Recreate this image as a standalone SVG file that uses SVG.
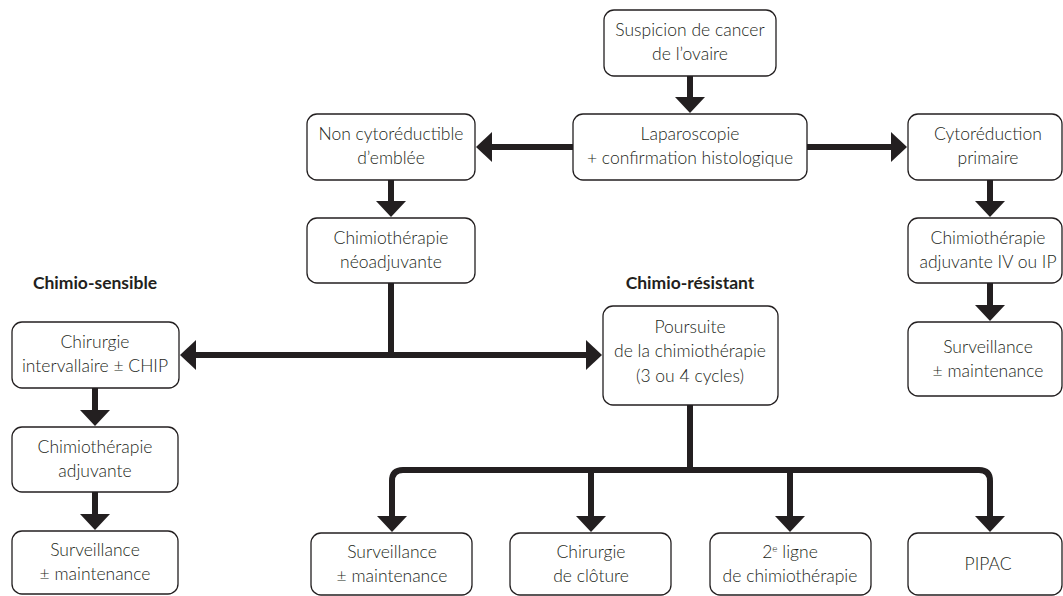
<svg xmlns="http://www.w3.org/2000/svg" width="1063" height="596" viewBox="0 0 1063 596">
  <style>
    .box { fill: #ffffff; stroke: #231f20; stroke-width: 1.3; }
    .t { font-family: Lato, "Open Sans", sans-serif; font-weight: 300; font-size: 17.5px; fill: #231f20; text-anchor: middle; }
    .lbl { font-family: Lato, "Open Sans", sans-serif; font-weight: 700; font-size: 17.5px; fill: #231f20; text-anchor: middle; }
    .c { fill: none; stroke: #231f20; stroke-width: 6; }
  </style>
  <defs>
    <marker id="ah" viewBox="0 0 16 30" refX="1" refY="15" markerWidth="16" markerHeight="30" markerUnits="userSpaceOnUse" orient="auto">
      <path d="M0,0 L16,15 L0,30 z" fill="#231f20"/>
    </marker>
  </defs>
  <rect width="1063" height="596" fill="#ffffff"/>

  <g id="connectors">
    <line class="c" x1="690" y1="76" x2="690" y2="98" marker-end="url(#ah)"/>
    <line class="c" x1="573" y1="147" x2="491" y2="147" marker-end="url(#ah)"/>
    <line class="c" x1="807" y1="147" x2="892" y2="147" marker-end="url(#ah)"/>
    <line class="c" x1="391" y1="180" x2="391" y2="202" marker-end="url(#ah)"/>
    <line class="c" x1="990" y1="180" x2="990" y2="202" marker-end="url(#ah)"/>
    <line class="c" x1="990" y1="283" x2="990" y2="306" marker-end="url(#ah)"/>
    <line class="c" x1="391" y1="283" x2="391" y2="355"/>
    <line class="c" x1="394" y1="355" x2="195" y2="355" marker-end="url(#ah)"/>
    <line class="c" x1="388" y1="355" x2="587" y2="355" marker-end="url(#ah)"/>
    <line class="c" x1="95" y1="388" x2="95" y2="411" marker-end="url(#ah)"/>
    <line class="c" x1="95" y1="492" x2="95" y2="515" marker-end="url(#ah)"/>
    <line class="c" x1="690" y1="405" x2="690" y2="470"/>
    <path class="c" d="M392,517 V481 Q392,470 403,470 H979 Q990,470 990,481 V517"/>
    <line class="c" x1="392" y1="500" x2="392" y2="517" marker-end="url(#ah)"/>
    <line class="c" x1="591" y1="470" x2="591" y2="517" marker-end="url(#ah)"/>
    <line class="c" x1="790" y1="470" x2="790" y2="517" marker-end="url(#ah)"/>
    <line class="c" x1="990" y1="500" x2="990" y2="517" marker-end="url(#ah)"/>
  </g>

  <g id="n-suspicion">
    <rect class="box" x="604" y="10" width="172" height="66" rx="10"/>
    <text class="t" x="690" y="36">Suspicion de cancer</text>
    <text class="t" x="690" y="60">de l’ovaire</text>
  </g>
  <g id="n-laparoscopie">
    <rect class="box" x="573" y="114" width="234" height="66" rx="10"/>
    <text class="t" x="690" y="140">Laparoscopie</text>
    <text class="t" x="690" y="164">+ confirmation histologique</text>
  </g>
  <g id="n-noncyto">
    <rect class="box" x="307" y="114" width="168" height="66" rx="10"/>
    <text class="t" x="391" y="140">Non cytoréductible</text>
    <text class="t" x="391" y="164">d’emblée</text>
  </g>
  <g id="n-cytoreduction">
    <rect class="box" x="908" y="114" width="154" height="66" rx="10"/>
    <text class="t" x="988" y="140">Cytoréduction</text>
    <text class="t" x="988" y="164">primaire</text>
  </g>
  <g id="n-neoadj">
    <rect class="box" x="307" y="218" width="168" height="65" rx="10"/>
    <text class="t" x="391" y="244">Chimiothérapie</text>
    <text class="t" x="391" y="268">néoadjuvante</text>
  </g>
  <g id="n-adjiv">
    <rect class="box" x="908" y="218" width="154" height="65" rx="10"/>
    <text class="t" x="988" y="244">Chimiothérapie</text>
    <text class="t" x="988" y="268">adjuvante IV ou IP</text>
  </g>
  <g id="n-surv-right">
    <rect class="box" x="908" y="322" width="154" height="74" rx="10"/>
    <text class="t" x="988" y="353">Surveillance</text>
    <text class="t" x="988" y="377">± maintenance</text>
  </g>
  <g id="lbl-sensible">
    <text class="lbl" x="95" y="289">Chimio-sensible</text>
  </g>
  <g id="lbl-resistant">
    <text class="lbl" x="690" y="289">Chimio-résistant</text>
  </g>
  <g id="n-chir-interv">
    <rect class="box" x="12" y="322" width="167" height="66" rx="10"/>
    <text class="t" x="95" y="348">Chirurgie</text>
    <text class="t" x="95" y="372">intervallaire ± CHIP</text>
  </g>
  <g id="n-adj-left">
    <rect class="box" x="12" y="427" width="166" height="65" rx="10"/>
    <text class="t" x="95" y="453">Chimiothérapie</text>
    <text class="t" x="95" y="477">adjuvante</text>
  </g>
  <g id="n-surv-left">
    <rect class="box" x="12" y="531" width="166" height="63" rx="10"/>
    <text class="t" x="95" y="556">Surveillance</text>
    <text class="t" x="95" y="580">± maintenance</text>
  </g>
  <g id="n-poursuite">
    <rect class="box" x="603" y="306" width="175" height="99" rx="10"/>
    <text class="t" x="690" y="333">Poursuite</text>
    <text class="t" x="690" y="357">de la chimiothérapie</text>
    <text class="t" x="690" y="382">(3 ou 4 cycles)</text>
  </g>
  <g id="n-surv-bottom">
    <rect class="box" x="311" y="533" width="161" height="62" rx="10"/>
    <text class="t" x="392" y="558">Surveillance</text>
    <text class="t" x="392" y="582">± maintenance</text>
  </g>
  <g id="n-cloture">
    <rect class="box" x="510" y="533" width="161" height="62" rx="10"/>
    <text class="t" x="591" y="558">Chirurgie</text>
    <text class="t" x="591" y="582">de clôture</text>
  </g>
  <g id="n-2eligne">
    <rect class="box" x="710" y="533" width="161" height="62" rx="10"/>
    <text class="t" x="790" y="558">2<tspan font-size="10" dy="-6">e</tspan><tspan dy="6"> ligne</tspan></text>
    <text class="t" x="790" y="582">de chimiothérapie</text>
  </g>
  <g id="n-pipac">
    <rect class="box" x="908" y="533" width="154" height="62" rx="10"/>
    <text class="t" x="988" y="570">PIPAC</text>
  </g>
</svg>
